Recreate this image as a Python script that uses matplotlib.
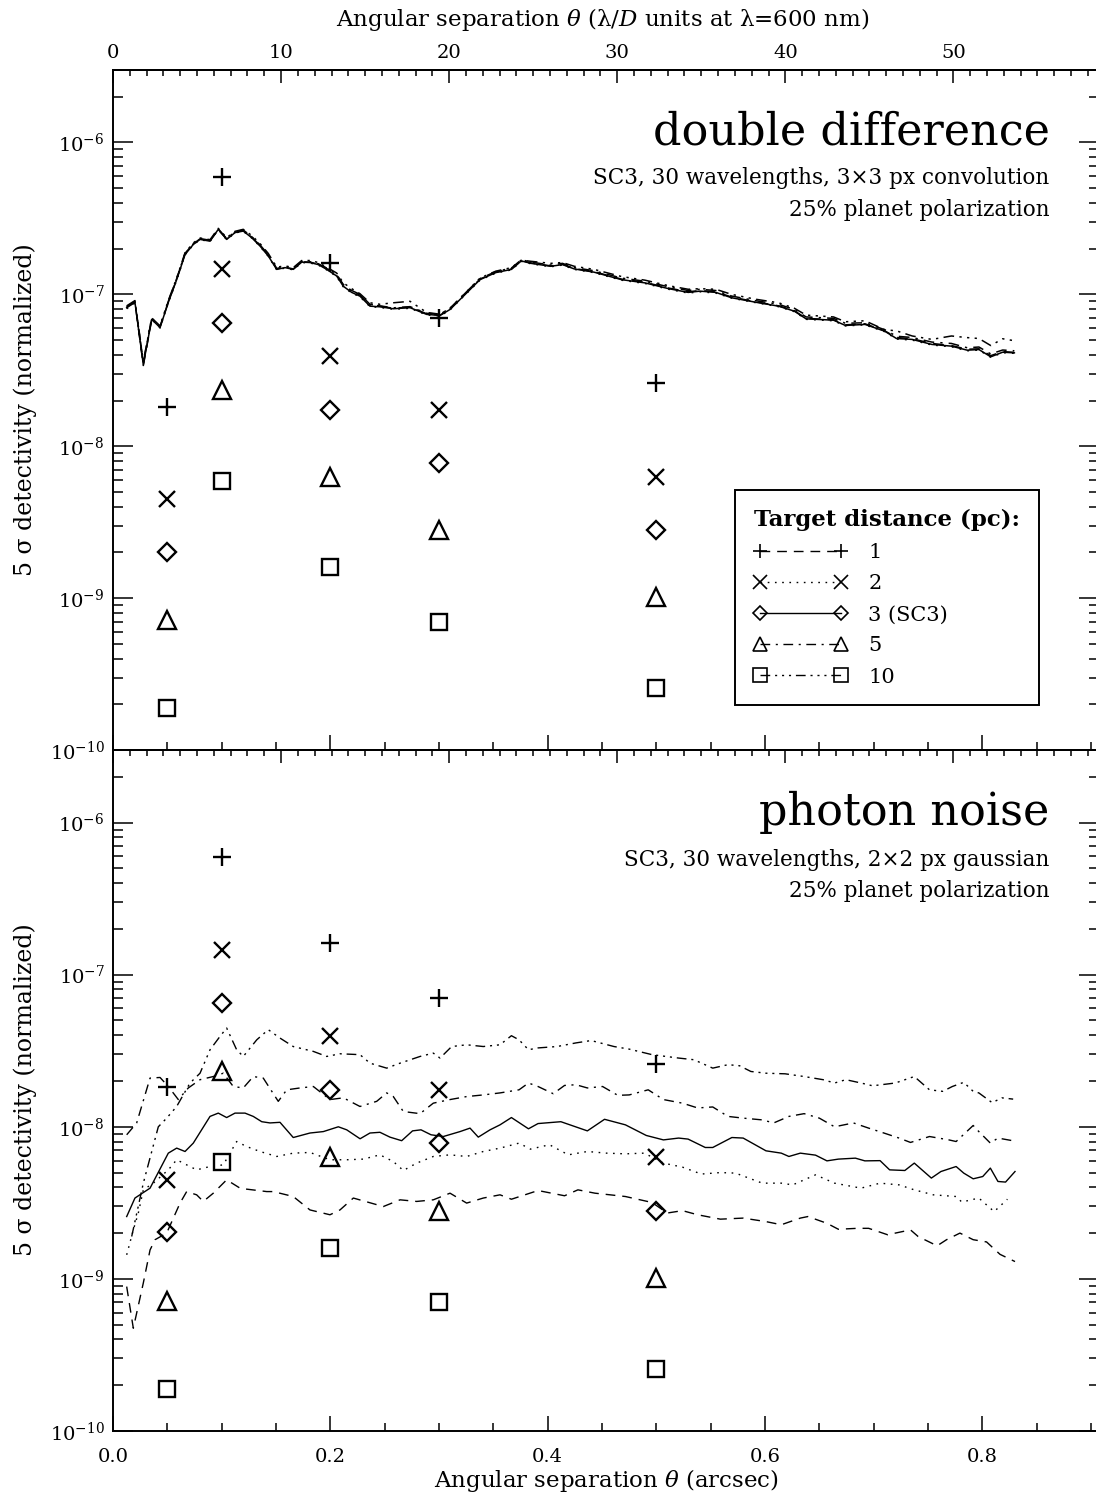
import numpy as np
import matplotlib
matplotlib.use('Agg')
import matplotlib.pyplot as plt
from matplotlib.lines import Line2D
from matplotlib.ticker import FixedLocator, LogLocator, NullFormatter

plt.rcParams['font.family'] = 'DejaVu Serif'
plt.rcParams['mathtext.fontset'] = 'dejavuserif'

# lambda/D at 600 nm, in arcsec (top axis)
lod = 0.01547

# planet contrasts (markers), same in both panels
planet_sep = [0.05, 0.1, 0.2, 0.3, 0.5]
planet_1pc = [1.82e-8, 5.9e-7, 1.62e-7, 7.0e-8, 2.59e-8]
planet_2pc = [4.5e-9, 1.46e-7, 3.95e-8, 1.74e-8, 6.3e-9]
planet_3pc = [2.02e-9, 6.5e-8, 1.74e-8, 7.8e-9, 2.8e-9]
planet_5pc = [7.2e-10, 2.33e-8, 6.3e-9, 2.8e-9, 1.02e-9]
planet_10pc = [1.89e-10, 5.9e-9, 1.6e-9, 7.0e-10, 2.56e-10]

# double difference curves (units of 1e-9)
dd_sep = [0.0126, 0.0202, 0.0279, 0.0356, 0.0433, 0.0509, 0.0586, 0.0663, 0.0739, 0.0801,
          0.0893, 0.0969, 0.1046, 0.1123, 0.1199, 0.1277, 0.1353, 0.1429, 0.1507, 0.1583,
          0.1659, 0.1737, 0.1813, 0.1890, 0.1967, 0.2059, 0.2120, 0.2197, 0.2273, 0.2365,
          0.2457, 0.2580, 0.2734, 0.2887, 0.3010, 0.3102, 0.3194, 0.3378, 0.3522, 0.3667,
          0.3758, 0.3847, 0.4029, 0.4137, 0.4246, 0.4427, 0.4680, 0.4896, 0.5114, 0.5294,
          0.5403, 0.5548, 0.5693, 0.5909, 0.6126, 0.6271, 0.6379, 0.6632, 0.6741, 0.6921,
          0.7103, 0.7211, 0.7356, 0.7537, 0.7717, 0.7862, 0.7970, 0.8079, 0.8188, 0.8296]
dd_1pc = [82.5, 89.0, 34.0, 68.0, 61.0, 89.0, 126, 185, 215, 232,
          226, 266, 232, 256, 263, 238, 210, 181, 147, 151,
          147, 164, 163, 158, 148, 134, 115, 106, 100, 86.0,
          83.5, 81.0, 82.5, 74.5, 73.0, 80.0, 93.0, 126, 140, 147,
          167, 161, 154, 158, 148, 141, 126, 120, 110, 104,
          106, 104, 96.0, 89.5, 84.0, 78.0, 69.5, 68.0, 63.0, 64.0,
          57.5, 52.0, 51.0, 47.5, 46.0, 43.5, 43.8, 39.5, 42.0, 41.5]
dd_2pc = [80.5, 87.5, 35.0, 68.8, 60.0, 88.0, 124, 182, 212, 229,
          223, 267, 229, 254, 260, 235, 207, 178, 145, 149,
          145, 162, 161, 156, 145, 131, 112, 102, 96.5, 83.0,
          82.0, 79.8, 81.0, 73.2, 72.0, 79.0, 92.0, 124, 138, 145,
          165, 159, 152, 156, 146, 139, 124, 118, 108, 102,
          104, 102, 94.5, 88.4, 83.0, 77.0, 68.5, 67.0, 62.0, 63.0,
          56.8, 50.8, 50.0, 46.4, 45.2, 42.5, 43.0, 38.5, 41.3, 40.9]
dd_3pc = [81.7, 88.5, 34.5, 68.4, 60.5, 88.5, 125, 183, 213, 230,
          224, 268, 230, 255, 261, 236, 208, 179, 146, 150,
          146, 163, 162, 157, 146, 132, 113, 103, 97.3, 83.6,
          82.8, 80.4, 81.7, 73.8, 72.6, 79.5, 92.5, 125, 139, 146,
          166, 160, 153, 157, 147, 140, 125, 119, 109, 103,
          105, 103, 95.0, 88.9, 83.6, 77.5, 69.0, 67.6, 62.4, 63.4,
          57.2, 51.2, 50.5, 46.8, 45.6, 42.9, 43.3, 38.8, 41.6, 41.2]
dd_5pc = [83.0, 90.0, 35.5, 69.5, 61.5, 90.0, 127, 186, 216, 233,
          227, 270, 233, 258, 265, 240, 212, 182, 148, 152,
          148, 165, 164, 159, 149, 135, 116, 105, 99.0, 85.0,
          84.0, 81.5, 83.0, 75.0, 74.0, 81.0, 94.5, 127, 141, 149,
          169, 163, 156, 160, 150, 143, 128, 122, 112, 106,
          108, 106, 97.5, 91.0, 86.0, 79.5, 71.0, 69.5, 64.5, 65.0,
          58.5, 53.0, 52.0, 48.5, 47.5, 44.5, 45.0, 40.5, 43.0, 42.5]
dd_10pc = [84.0, 91.0, 36.0, 70.0, 62.0, 91.0, 128, 188, 218, 235,
           229, 272, 236, 260, 268, 244, 216, 186, 151, 154,
           150, 167, 167, 162, 151, 138, 119, 109, 101, 88.0,
           86.0, 88.0, 90.0, 76.0, 74.0, 81.0, 94.0, 128, 142, 150,
           168, 165, 160, 162, 153, 146, 131, 124, 114, 108,
           109, 108, 100, 93.0, 88.0, 81.0, 73.0, 71.0, 66.0, 67.0,
           58.5, 57.5, 53.2, 50.5, 53.2, 51.9, 51.2, 46.0, 51.0, 49.5]

# photon noise curves (units of 1e-9)
pn_sep_1pc = [0.0126, 0.0187, 0.0279, 0.0341, 0.0387, 0.0494, 0.0617, 0.0678, 0.0770, 0.0831,
              0.0923, 0.1046, 0.1169, 0.1231, 0.1415, 0.1475, 0.1659, 0.1813, 0.1997, 0.2089,
              0.2212, 0.2488, 0.2642, 0.2795, 0.2948, 0.3102, 0.3255, 0.3408, 0.3562, 0.3667,
              0.3912, 0.4156, 0.4279, 0.4436, 0.4576, 0.4716, 0.4961, 0.5101, 0.5241, 0.5381,
              0.5590, 0.5800, 0.6010, 0.6151, 0.6326, 0.6396, 0.6571, 0.6676, 0.6851, 0.6955,
              0.7130, 0.7200, 0.7340, 0.7410, 0.7585, 0.7672, 0.7795, 0.7917, 0.8040, 0.8164,
              0.8302]
pn_1pc = [0.89, 0.474, 0.94, 1.55, 1.81, 2.0, 3.15, 3.75, 3.57, 3.23,
          3.66, 4.48, 3.95, 3.89, 3.75, 3.75, 3.48, 2.84, 2.64, 2.84,
          3.40, 2.99, 3.31, 3.23, 3.31, 3.66, 3.15, 3.40, 3.57, 3.34,
          3.81, 3.52, 3.85, 3.66, 3.57, 3.48, 3.18, 2.71, 2.81, 2.64,
          2.47, 2.51, 2.38, 2.27, 2.51, 2.57, 2.32, 2.12, 2.15, 2.15,
          1.95, 2.0, 2.10, 1.90, 1.65, 1.81, 2.0, 1.81, 1.75, 1.45,
          1.30]

pn_sep_2pc = [0.0126, 0.0187, 0.0233, 0.0279, 0.0371, 0.0509, 0.0586, 0.0678, 0.0770, 0.0893,
              0.1015, 0.1138, 0.1231, 0.1353, 0.1507, 0.1659, 0.1813, 0.1997, 0.2151, 0.2304,
              0.2457, 0.2580, 0.2672, 0.2795, 0.2948, 0.3102, 0.3255, 0.3408, 0.3562, 0.3737,
              0.3842, 0.4017, 0.4191, 0.4366, 0.4541, 0.4716, 0.4891, 0.5066, 0.5241, 0.5415,
              0.5590, 0.5730, 0.5976, 0.6151, 0.6256, 0.6466, 0.6641, 0.6885, 0.7060, 0.7235,
              0.7375, 0.7550, 0.7760, 0.7812, 0.7969, 0.8110, 0.8232]
pn_2pc = [1.44, 2.10, 2.71, 3.85, 4.26, 5.21, 6.07, 5.62, 5.21, 5.48,
          5.62, 8.0, 7.41, 6.88, 6.38, 6.71, 6.78, 6.07, 6.07, 6.13,
          6.54, 5.91, 5.16, 5.77, 6.38, 6.54, 6.38, 6.88, 7.24, 7.81,
          7.13, 7.62, 6.54, 6.88, 6.71, 6.64, 6.71, 5.77, 5.43, 4.89,
          5.00, 4.96, 4.26, 4.26, 4.15, 4.83, 4.26, 3.95, 4.26, 4.15,
          3.85, 3.57, 3.48, 3.20, 3.40, 2.77, 3.34]

pn_sep_3pc = [0.0126, 0.0202, 0.0341, 0.0509, 0.0586, 0.0663, 0.0739, 0.0893, 0.0969, 0.1046,
              0.1123, 0.1215, 0.1291, 0.1369, 0.1445, 0.1537, 0.1659, 0.1813, 0.1936, 0.2074,
              0.2151, 0.2274, 0.2365, 0.2457, 0.2549, 0.2657, 0.2757, 0.2835, 0.2927, 0.3040,
              0.3194, 0.3286, 0.3362, 0.3470, 0.3562, 0.3667, 0.3824, 0.3912, 0.4122, 0.4366,
              0.4524, 0.4716, 0.4908, 0.5066, 0.5206, 0.5293, 0.5451, 0.5520, 0.5696, 0.5800,
              0.6010, 0.6151, 0.6221, 0.6326, 0.6466, 0.6571, 0.6676, 0.6833, 0.6920, 0.7060,
              0.7148, 0.7288, 0.7375, 0.7532, 0.7620, 0.7760, 0.7830, 0.7917, 0.8005, 0.8075,
              0.8145, 0.8215, 0.8302]
pn_3pc = [2.57, 3.40, 3.95, 6.71, 7.24, 6.88, 7.81, 11.7, 12.3, 11.5,
          12.3, 12.3, 11.7, 10.8, 10.6, 10.7, 8.5, 9.1, 9.3, 10.0,
          9.55, 8.34, 9.1, 9.2, 8.55, 8.1, 9.4, 9.55, 8.86, 8.63,
          9.3, 9.8, 8.55, 9.55, 10.3, 11.5, 9.7, 10.5, 10.8, 9.4,
          11.2, 10.3, 8.77, 8.2, 8.43, 8.3, 7.31, 7.31, 8.5, 8.43,
          6.95, 6.71, 6.38, 6.71, 6.51, 5.97, 6.13, 6.22, 5.97, 5.99,
          5.21, 5.16, 5.77, 4.60, 5.08, 5.48, 4.96, 4.55, 4.71, 5.35,
          4.37, 4.33, 5.08]

pn_sep_5pc = [0.0126, 0.0218, 0.0341, 0.0433, 0.0509, 0.0601, 0.0693, 0.0801, 0.0923, 0.1015,
              0.1107, 0.1199, 0.1291, 0.1383, 0.1521, 0.1599, 0.1721, 0.1844, 0.1997, 0.2120,
              0.2273, 0.2427, 0.2519, 0.2580, 0.2672, 0.2826, 0.2948, 0.3102, 0.3255, 0.3408,
              0.3562, 0.3737, 0.3824, 0.3912, 0.4052, 0.4156, 0.4261, 0.4366, 0.4506, 0.4646,
              0.4751, 0.4926, 0.5066, 0.5241, 0.5381, 0.5520, 0.5660, 0.5800, 0.5976, 0.6081,
              0.6221, 0.6361, 0.6501, 0.6641, 0.6815, 0.6955, 0.7095, 0.7235, 0.7340, 0.7515,
              0.7690, 0.7760, 0.7917, 0.7969, 0.8075, 0.8145, 0.8285]
pn_5pc = [8.86, 10.6, 20.9, 21.1, 18.4, 15.1, 18.0, 20.4, 21.4, 22.5,
          18.4, 18.0, 21.4, 20.9, 14.7, 17.5, 18.0, 18.4, 15.1, 15.5,
          13.6, 14.7, 16.7, 15.8, 12.6, 12.2, 14.3, 15.1, 15.8, 16.2,
          16.7, 17.5, 19.4, 18.4, 16.5, 18.7, 18.9, 18.0, 18.4, 16.1,
          16.2, 17.5, 15.1, 14.3, 13.3, 13.5, 11.7, 11.4, 11.1, 10.6,
          11.7, 12.2, 11.4, 10.0, 10.6, 9.8, 9.1, 8.43, 7.89, 8.63,
          8.21, 8.0, 10.2, 9.3, 7.81, 8.43, 8.09]

pn_sep_10pc = [0.0172, 0.0279, 0.0417, 0.0494, 0.0586, 0.0709, 0.0801, 0.0893, 0.0985, 0.1046,
               0.1138, 0.1199, 0.1323, 0.1429, 0.1537, 0.1659, 0.1844, 0.1967, 0.2089, 0.2273,
               0.2365, 0.2519, 0.2642, 0.2826, 0.2948, 0.3010, 0.3117, 0.3255, 0.3408, 0.3562,
               0.3667, 0.3737, 0.3824, 0.3912, 0.4087, 0.4261, 0.4401, 0.4611, 0.4751, 0.4961,
               0.5206, 0.5346, 0.5520, 0.5660, 0.5766, 0.5871, 0.6010, 0.6186, 0.6361, 0.6536,
               0.6641, 0.6745, 0.6885, 0.6991, 0.7200, 0.7375, 0.7515, 0.7637, 0.7725, 0.7830,
               0.7917, 0.7969, 0.8092, 0.8180, 0.8285]
pn_10pc = [1.90, 4.26, 10.0, 11.4, 13.6, 19.4, 22.5, 32.1, 39.3, 44.6,
           32.1, 29.0, 37.3, 43.5, 38.3, 33.7, 31.3, 29.0, 30.2, 29.8,
           26.2, 24.3, 26.2, 29.0, 30.5, 28.3, 33.7, 34.6, 33.7, 34.6,
           39.7, 37.3, 32.1, 33.0, 33.7, 35.6, 36.9, 33.7, 32.4, 29.8,
           28.3, 27.6, 24.3, 25.6, 25.2, 23.1, 22.5, 22.3, 21.4, 20.4,
           19.4, 20.4, 19.4, 18.6, 19.4, 21.4, 17.5, 17.1, 18.4, 19.6,
           17.1, 16.7, 14.4, 15.5, 15.2]

labels = ['1', '2', '3 (SC3)', '5', '10']
markers = ['+', 'x', 'D', '^', 's']
msizes = [13, 12, 9, 13, 12]
linestyles = [(0, (7, 5)), (0, (1.2, 4)), '-', (0, (7, 4, 1.5, 4)),
              (0, (7, 3.5, 1.5, 3.5, 1.5, 3.5, 1.5, 3.5))]
planets = [planet_1pc, planet_2pc, planet_3pc, planet_5pc, planet_10pc]
dd_curves = [dd_1pc, dd_2pc, dd_3pc, dd_5pc, dd_10pc]
pn_seps = [pn_sep_1pc, pn_sep_2pc, pn_sep_3pc, pn_sep_5pc, pn_sep_10pc]
pn_curves = [pn_1pc, pn_2pc, pn_3pc, pn_5pc, pn_10pc]

W, H = 1096, 1499
fig = plt.figure(figsize=(W / 100, H / 100), dpi=100)
ax_dd = fig.add_axes([113 / W, 1 - 750 / H, 986 / W, 680 / H])
ax_pn = fig.add_axes([113 / W, 1 - 1431 / H, 986 / W, 681 / H])

for ax in (ax_dd, ax_pn):
    ax.set_yscale('log')
    ax.set_xlim(0, 0.9075)
    ax.set_ylim(1e-10, 3.0e-6)
    ax.xaxis.set_major_locator(FixedLocator([0.0, 0.2, 0.4, 0.6, 0.8]))
    ax.xaxis.set_minor_locator(FixedLocator(np.arange(0.05, 0.91, 0.05)))
    ax.xaxis.set_major_formatter(lambda v, p: f'{v:.1f}')
    ax.yaxis.set_major_locator(LogLocator(base=10, numticks=20))
    ax.yaxis.set_minor_locator(LogLocator(base=10, subs=np.arange(2, 10), numticks=20))
    ax.yaxis.set_minor_formatter(NullFormatter())
    ax.tick_params(which='both', direction='in', right=True, top=False,
                   width=1.1, labelsize=14, color='k')
    ax.tick_params(axis='y', which='major', length=14.5, pad=6)
    ax.tick_params(axis='y', which='minor', length=7)
    ax.tick_params(axis='x', which='major', length=10.5, pad=12)
    ax.tick_params(axis='x', which='minor', length=5.8)
    for s in ax.spines.values():
        s.set_linewidth(1.4)
    sec = ax.secondary_xaxis('top', functions=(lambda x: x / lod, lambda x: x * lod))
    sec.xaxis.set_major_locator(FixedLocator([0, 10, 20, 30, 40, 50]))
    sec.xaxis.set_minor_locator(FixedLocator(np.arange(1, 59)))
    sec.tick_params(which='both', direction='in', width=1.1, labelsize=14, pad=6)
    sec.tick_params(which='major', length=9)
    sec.tick_params(which='minor', length=4.3)
    sec.spines['top'].set_linewidth(1.4)
    if ax is ax_dd:
        ax.tick_params(labelbottom=False)
    else:
        sec.tick_params(labeltop=False)

for i in range(5):
    ax_dd.plot(dd_sep, np.array(dd_curves[i]) * 1e-9, color='k', lw=1.1,
               linestyle=linestyles[i], zorder=2)
    ax_pn.plot(pn_seps[i], np.array(pn_curves[i]) * 1e-9, color='k', lw=1.0,
               linestyle=linestyles[i], zorder=2)
    for ax in (ax_dd, ax_pn):
        ax.plot(planet_sep, planets[i], linestyle='none', marker=markers[i],
                ms=msizes[i], mfc='none', mec='k', mew=1.7, zorder=3)

ax_dd.text(0.950, 0.890, 'double difference', transform=ax_dd.transAxes,
           ha='right', va='baseline', fontsize=32)
ax_dd.text(0.950, 0.832, 'SC3, 30 wavelengths, 3\u00d73 px convolution',
           transform=ax_dd.transAxes, ha='right', va='baseline', fontsize=15.5)
ax_dd.text(0.950, 0.785, '25% planet polarization', transform=ax_dd.transAxes,
           ha='right', va='baseline', fontsize=15.5)

ax_pn.text(0.950, 0.890, 'photon noise', transform=ax_pn.transAxes,
           ha='right', va='baseline', fontsize=32)
ax_pn.text(0.950, 0.830, 'SC3, 30 wavelengths, 2\u00d72 px gaussian',
           transform=ax_pn.transAxes, ha='right', va='baseline', fontsize=15.5)
ax_pn.text(0.950, 0.784, '25% planet polarization', transform=ax_pn.transAxes,
           ha='right', va='baseline', fontsize=15.5)

handles = [Line2D([], [], color='k', lw=1.0, linestyle=linestyles[i], marker=markers[i],
                  ms=msizes[i] * 0.8, mfc='none', mec='k', mew=1.2) for i in range(5)]
leg = ax_dd.legend(handles, labels, title='Target distance (pc):', loc='upper left',
                   bbox_to_anchor=(0.631, 0.382), borderaxespad=0, numpoints=2,
                   handlelength=4.5, handletextpad=1.0, labelspacing=0.58,
                   borderpad=0.9, fontsize=15, title_fontsize=16.5,
                   alignment='left', frameon=True, fancybox=False,
                   edgecolor='k', framealpha=1)
leg.get_frame().set_linewidth(1.4)
leg.get_title().set_fontweight('bold')

fig.text(603 / W, 1 - 26 / H, r'Angular separation $\theta$ ($\mathrm{\lambda}/D$ units at $\mathrm{\lambda}$=600 nm)',
         ha='center', va='baseline', fontsize=16.5)
fig.text(606 / W, 1 - 1487 / H, r'Angular separation $\theta$ (arcsec)',
         ha='center', va='baseline', fontsize=16.5)
for yc in (410, 1090):
    fig.text(25 / W, 1 - yc / H, '5 \u03c3 detectivity (normalized)', rotation=90,
             ha='center', va='center', fontsize=17)

fig.savefig('out.png', dpi=100)
